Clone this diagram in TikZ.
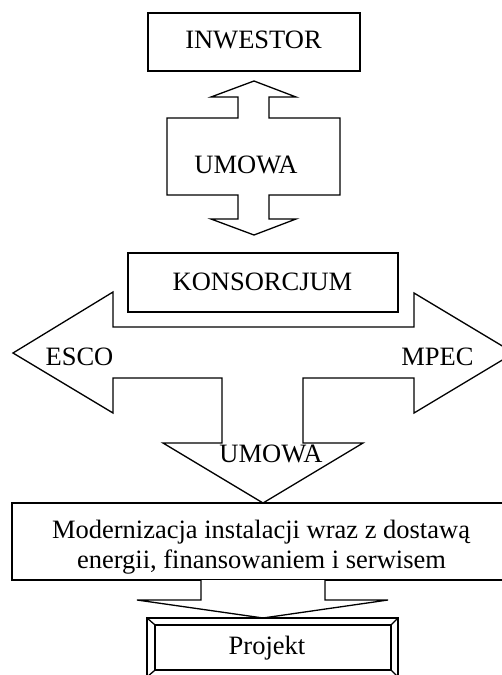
\documentclass[tikz,border=0pt]{standalone}
\usepackage{fontspec}
\setmainfont{Liberation Serif}
\begin{document}
\begin{tikzpicture}[x=1pt,y=-1pt,
  line width=1.3pt, line join=miter,
  box/.style={draw, rectangle, inner sep=0pt},
  txt/.style={inner sep=0pt, anchor=base, font=\fontsize{26.5}{30}\selectfont},
  arrowshape/.style={draw, fill=white}]
\useasboundingbox (0,0) rectangle (502,675);
\clip (0,0) rectangle (502,675);

% top party
\node[box, minimum width=212pt, minimum height=58pt] (inwestor) at (254,42) {};
\node[txt] (inwestortxt) at (253.5,48) {INWESTOR};

% two-way contract arrow
\draw[arrowshape] (254,81) -- (296,97) -- (269,97) -- (269,118) -- (340,118) -- (340,195)
  -- (269,195) -- (269,219) -- (296,219) -- (254,235) -- (211,219) -- (238,219)
  -- (238,195) -- (167,195) -- (167,118) -- (238,118) -- (238,97) -- (211,97) -- cycle;
\node[txt] (umowa1) at (246,173) {UMOWA};

% consortium and its three-way arrow
\draw[arrowshape] (13,353) -- (113,292) -- (113,327) -- (414,327) -- (414,293) -- (514,353)
  -- (414,413) -- (414,378) -- (303,378) -- (303,443) -- (363,443) -- (263,503)
  -- (163,443) -- (222,443) -- (222,378) -- (113,378) -- (113,413) -- cycle;
\node[box, minimum width=270pt, minimum height=59pt] (konsorcjum) at (263,282.5) {};
\node[txt] (konsorcjumtxt) at (262.5,290) {KONSORCJUM};
\node[txt] (esco) at (79.5,365) {ESCO};
\node[txt] (mpec) at (437.5,365) {MPEC};
\node[txt] (umowa2) at (271,462) {UMOWA};

% scope of the contract
\node[box, minimum width=502pt, minimum height=77pt] (zakres) at (263,541.5) {};
\node[txt] (opis1) at (261,538) {Modernizacja instalacji wraz z dostawą};
\node[txt] (opis2) at (261.5,568) {energii, finansowaniem i serwisem};

% arrow down to the project
\draw[arrowshape] (201,580) -- (201,600) -- (137,600) -- (263,618) -- (388,600) -- (325,600) -- (325,580);

% project frame with bevelled edge
\draw (147,618) rectangle (398,677);
\node[box, minimum width=236pt, minimum height=45pt] (projekt) at (273,647.5) {};
\draw (147,618) -- (projekt.north west);
\draw (398,618) -- (projekt.north east);
\draw (147,677) -- (projekt.south west);
\draw (398,677) -- (projekt.south east);
\node[txt] (projekttxt) at (267,654) {Projekt};
\end{tikzpicture}
\end{document}
